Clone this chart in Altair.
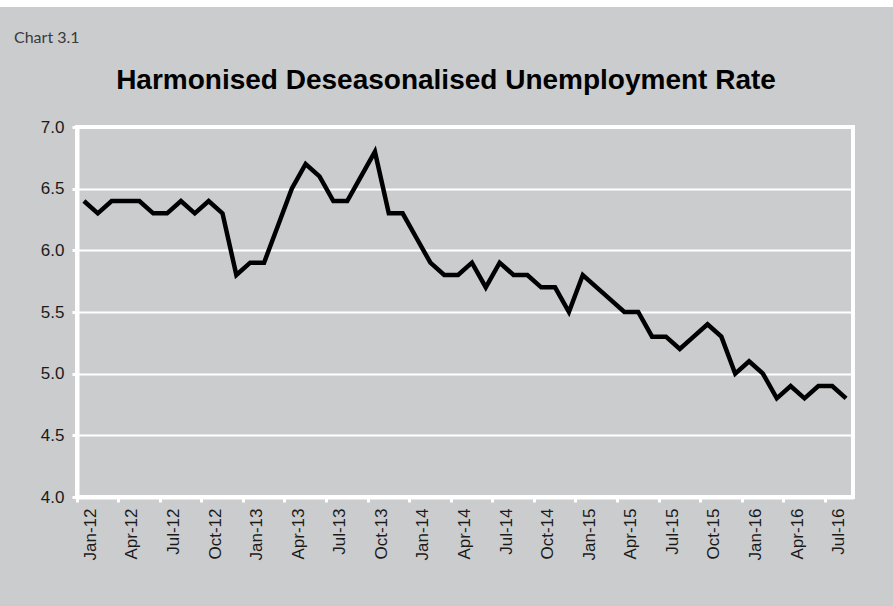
import altair as alt
import pandas as pd

months = [
    "Jan-12", "Feb-12", "Mar-12", "Apr-12", "May-12", "Jun-12", "Jul-12", "Aug-12", "Sep-12", "Oct-12", "Nov-12", "Dec-12",
    "Jan-13", "Feb-13", "Mar-13", "Apr-13", "May-13", "Jun-13", "Jul-13", "Aug-13", "Sep-13", "Oct-13", "Nov-13", "Dec-13",
    "Jan-14", "Feb-14", "Mar-14", "Apr-14", "May-14", "Jun-14", "Jul-14", "Aug-14", "Sep-14", "Oct-14", "Nov-14", "Dec-14",
    "Jan-15", "Feb-15", "Mar-15", "Apr-15", "May-15", "Jun-15", "Jul-15", "Aug-15", "Sep-15", "Oct-15", "Nov-15", "Dec-15",
    "Jan-16", "Feb-16", "Mar-16", "Apr-16", "May-16", "Jun-16", "Jul-16", "Aug-16",
]
rate = [
    6.4, 6.3, 6.4, 6.4, 6.4, 6.3, 6.3, 6.4, 6.3, 6.4, 6.3, 5.8,
    5.9, 5.9, 6.2, 6.5, 6.7, 6.6, 6.4, 6.4, 6.6, 6.8, 6.3, 6.3,
    6.1, 5.9, 5.8, 5.8, 5.9, 5.7, 5.9, 5.8, 5.8, 5.7, 5.7, 5.5,
    5.8, 5.7, 5.6, 5.5, 5.5, 5.3, 5.3, 5.2, 5.3, 5.4, 5.3, 5.0,
    5.1, 5.0, 4.8, 4.9, 4.8, 4.9, 4.9, 4.8,
]
x_tick_labels = months[::3]
y_ticks = [4.0, 4.5, 5.0, 5.5, 6.0, 6.5, 7.0]
title_text = "Harmonised Deseasonalised Unemployment Rate"
chart_label = "Chart 3.1"

BG = "#CBCCCE"
W, H = 776, 370
PAD = {"left": 77, "top": 127, "right": 40, "bottom": 109}

df = pd.DataFrame({"month": months, "rate": rate})
one = pd.DataFrame({"k": [0]})

x_enc = alt.X(
    "month:O",
    sort=None,
    title=None,
    scale=alt.Scale(type="band", paddingInner=0, paddingOuter=0),
    axis=alt.Axis(
        values=x_tick_labels,
        labelAngle=-90,
        bandPosition=0,
        labelOffset=W / len(months) / 2,
        labelFont="Liberation Sans",
        labelFontSize=17,
        labelColor="#1a1a1a",
        labelPadding=6,
        domainColor="white",
        domainWidth=4,
        tickColor="white",
        tickWidth=3,
        tickSize=5,
        grid=False,
    ),
)
y_enc = alt.Y(
    "rate:Q",
    title=None,
    scale=alt.Scale(domain=[4, 7], nice=False, zero=False),
    axis=alt.Axis(
        values=y_ticks,
        format=".1f",
        labelFont="Liberation Sans",
        labelFontSize=17,
        labelColor="#1a1a1a",
        labelPadding=8,
        domainColor="white",
        domainWidth=4,
        tickColor="white",
        tickWidth=3,
        tickSize=5,
        grid=True,
        gridColor="white",
        gridWidth=2,
    ),
)

line = alt.Chart(df).mark_line(color="black", strokeWidth=4.5).encode(x=x_enc, y=y_enc)

top_strip = alt.Chart(one).mark_rect(color="white").encode(
    x=alt.value(-PAD["left"]), x2=alt.value(W + PAD["right"]),
    y=alt.value(-PAD["top"]), y2=alt.value(-PAD["top"] + 7),
)
title = alt.Chart(one).mark_text(
    text=title_text, font="Liberation Sans", fontSize=28, fontWeight="bold",
    color="black", align="center", baseline="alphabetic",
).encode(x=alt.value(446 - PAD["left"]), y=alt.value(89 - PAD["top"]))
label = alt.Chart(one).mark_text(
    text=chart_label, font="Lato", fontSize=16, color="#3a3a3a",
    align="left", baseline="alphabetic",
).encode(x=alt.value(14 - PAD["left"]), y=alt.value(43 - PAD["top"]))

chart = (
    alt.layer(top_strip, title, label, line)
    .properties(
        width=W, height=H,
        autosize=alt.AutoSizeParams(type="none"),
        padding=PAD,
        background=BG,
    )
    .configure_view(stroke="white", strokeWidth=4, fill=BG)
)

chart.save("out.html", embed_options={"renderer": "svg", "actions": False})
